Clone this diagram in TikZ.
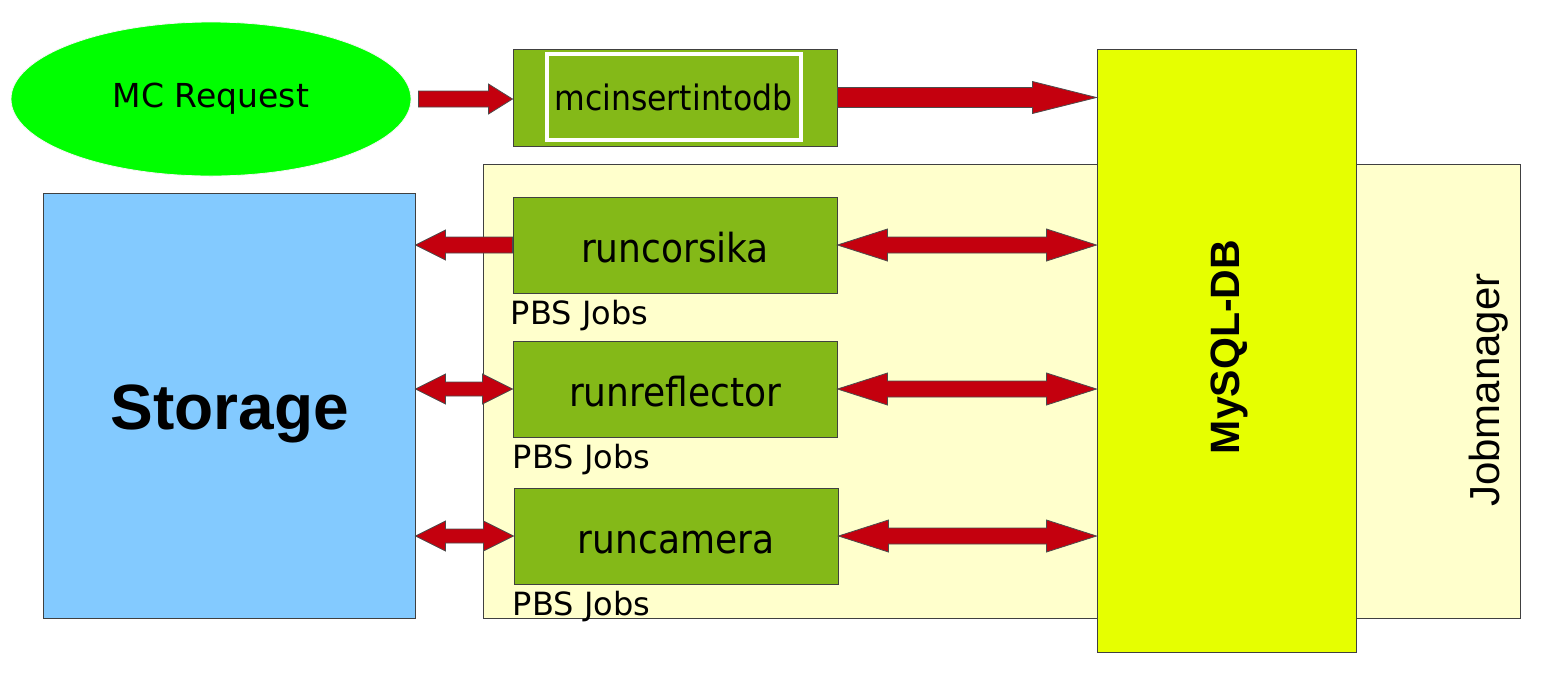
\documentclass[tikz,border=0pt]{standalone}
\usepackage{fontspec}
\setmainfont{DejaVu Sans}
\newfontfamily\condfont{DejaVu Sans Condensed}
\newfontfamily\arialfont{Liberation Sans}
\usetikzlibrary{shapes.geometric,calc}

\definecolor{reqgreen}{RGB}{0,255,0}
\definecolor{jobgreen}{RGB}{132,185,24}
\definecolor{dbyellow}{RGB}{230,255,0}
\definecolor{mgrcream}{RGB}{255,255,204}
\definecolor{storblue}{RGB}{131,202,255}
\definecolor{arrowred}{RGB}{196,0,14}

\begin{document}
\begin{tikzpicture}[x=0.5pt, y=-0.5pt,
		box/.style={draw=black!75, line width=0.5pt, inner sep=0pt},
		jobbox/.style={box, fill=jobgreen, minimum width=162pt, minimum height=48pt, text height=17pt, text depth=0pt, font=\condfont\fontsize{20}{24}\selectfont},
		pbs/.style={anchor=north west, inner sep=0pt, font=\fontsize{16}{19}\selectfont},
		rarrow/.style n args={3}{draw=black!70, line width=0.4pt, fill=arrowred,
			to path={let \p1=(\tikztostart), \p2=(\tikztotarget) in
				({\x1},{\y1-#1}) -- ({\x2-(#2)},{\y1-#1}) -- ({\x2-(#2)},{\y1-#3}) -- ({\x2},{\y1})
				-- ({\x2-(#2)},{\y1+#3}) -- ({\x2-(#2)},{\y1+#1}) -- ({\x1},{\y1+#1}) -- cycle}},
		darrow/.style n args={3}{draw=black!70, line width=0.4pt, fill=arrowred,
			to path={let \p1=(\tikztostart), \p2=(\tikztotarget) in
				({\x1},{\y1}) -- ({\x1+#2},{\y1+#3}) -- ({\x1+#2},{\y1+#1}) -- ({\x2-#2},{\y1+#1}) -- ({\x2-#2},{\y1+#3}) -- ({\x2},{\y1})
				-- ({\x2-#2},{\y1-#3}) -- ({\x2-#2},{\y1-#1}) -- ({\x1+#2},{\y1-#1}) -- ({\x1+#2},{\y1-#3}) -- cycle}}]
	\useasboundingbox (0,0) rectangle (1568,682);

	\draw (1001.5, 391) 	node[box, fill=mgrcream, minimum width=518.5pt, minimum height=227pt] 	(mgr) 	{};
	\draw (1489, 390) 	node[rotate=90, inner sep=0pt, font=\arialfont\fontsize{21}{25}\selectfont] 	(mgrlabel) 	{Jobmanager};
	\draw (1226.5, 350.5) 	node[box, fill=dbyellow, minimum width=129.5pt, minimum height=301.5pt] 	(db) 	{};
	\draw (1229, 347) 	node[rotate=90, inner sep=0pt, font=\arialfont\bfseries\fontsize{20.5}{24}\selectfont] 	(dblabel) 	{MySQL-DB};
	\draw (229, 405.5) 	node[box, fill=storblue, minimum width=186pt, minimum height=212.5pt] 	(stor) 	{};
	\draw (230, 414) 	node[inner sep=0pt, font=\arialfont\bfseries\fontsize{32}{36}\selectfont] 	(storlabel) 	{Storage};
	\draw (211, 99) 	node[ellipse, draw=black!3, fill=reqgreen, minimum width=200pt, minimum height=77pt, inner sep=0pt, font=\fontsize{16.5}{20}\selectfont] 	(req) 	{MC Request};
	\draw (675, 97.5) 	node[box, fill=jobgreen, minimum width=162pt, minimum height=48.5pt] 	(ins) 	{};
	\draw (673.5, 97) 	node[draw=white, line width=2pt, fill=jobgreen, minimum width=127pt, minimum height=43pt, inner sep=0pt, font=\condfont\fontsize{17.5}{21}\selectfont] 	(insinner) 	{mcinsertintodb};

	\draw (675, 245) 	node[jobbox] 	(cors) 	{runcorsika};
	\draw (675, 389) 	node[jobbox] 	(refl) 	{runreflector};
	\draw (676, 536) 	node[jobbox] 	(cam) 	{runcamera};
	\draw ([xshift=-1pt, yshift=-3pt]cors.south west) 	node[pbs] 	(pbs1) 	{PBS Jobs};
	\draw ([yshift=-3pt]refl.south west) 	node[pbs] 	(pbs2) 	{PBS Jobs};
	\draw ([xshift=-0.5pt, yshift=-3pt]cam.south west) 	node[pbs] 	(pbs3) 	{PBS Jobs};

	\draw[rarrow={4pt}{12pt}{7.5pt}] ([xshift=3.5pt]req.east) to (ins.west);
	\draw[rarrow={5pt}{32pt}{8pt}] (ins.east) to (db.west);
	\draw[rarrow={4pt}{-15pt}{7.5pt}] (cors.west) to (stor.east);
	\draw[darrow={4pt}{25pt}{8pt}] (cors.east) to (db.west);
	\draw[darrow={3.5pt}{15pt}{7.5pt}] (stor.east |- refl.west) to (refl.west);
	\draw[darrow={4pt}{25pt}{8pt}] (refl.east) to (db.west);
	\draw[darrow={3.5pt}{15pt}{7.5pt}] (stor.east |- cam.west) to (cam.west);
	\draw[darrow={4pt}{25pt}{8pt}] (cam.east) to (db.west);
\end{tikzpicture}
\end{document}
